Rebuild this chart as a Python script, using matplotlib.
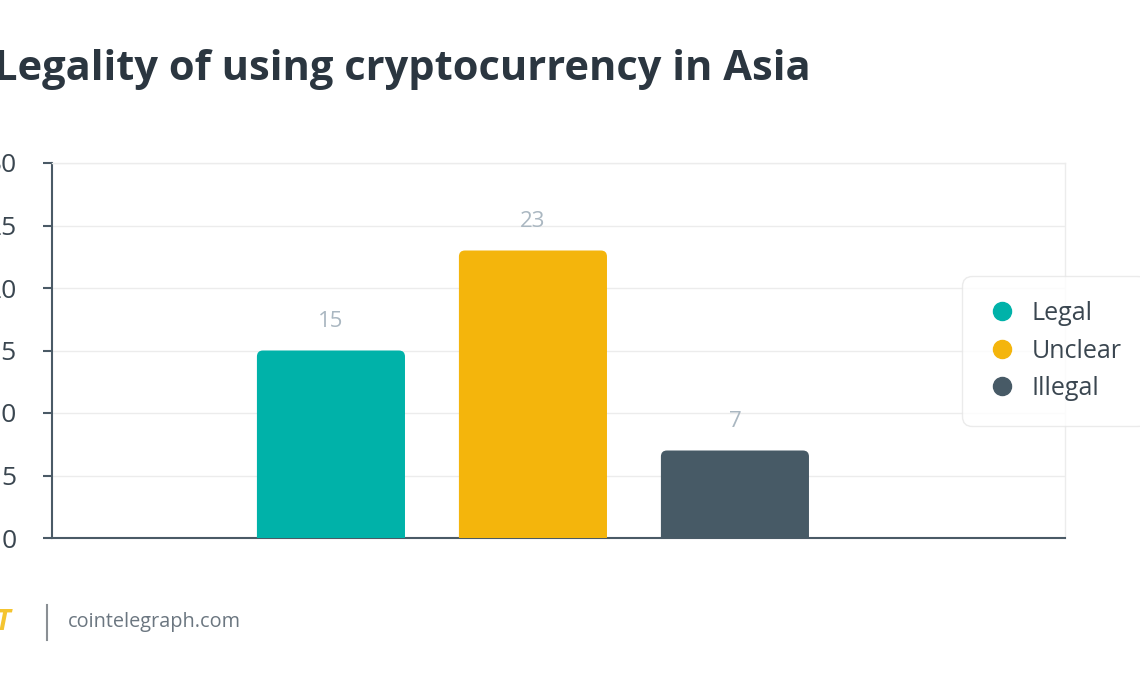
import matplotlib.pyplot as plt
from matplotlib.patches import FancyBboxPatch
from matplotlib.lines import Line2D

categories = ["Legal", "Unclear", "Illegal"]
values = [15, 23, 7]
colors = ["#00b2a9", "#f4b50c", "#475a66"]
y_ticks = [0, 5, 10, 15, 20, 25, 30]

plt.rcParams["font.family"] = ["Open Sans", "DejaVu Sans"]

W, H = 1140, 694
fig = plt.figure(figsize=(W / 100, H / 100), dpi=100)
fig.patch.set_facecolor("white")

# axes box in pixels: left 52, right 1065, bottom 538, top 163
ax = fig.add_axes([52 / W, 1 - 538 / H, (1065 - 52) / W, (538 - 163) / H])

x = list(range(len(categories)))
bars = ax.bar(x, values, width=0.733, color=colors, zorder=3)

# round the bar tops a little
for b, c in zip(bars, colors):
    bx, by = b.get_x(), b.get_y()
    bw, bh = b.get_width(), b.get_height()
    b.set_visible(False)
    patch = FancyBboxPatch((bx, by - 0.6), bw, bh + 0.6,
                           boxstyle="round,pad=0,rounding_size=0.03",
                           mutation_aspect=16.2, fc=c, ec="none", zorder=3)
    ax.add_patch(patch)

for xi, v in zip(x, values):
    ax.text(xi, v + 1.5, str(v), ha="center", va="bottom",
            fontsize=16, color="#aab7c1", zorder=4)

ax.set_xlim(-1.381, 3.634)
ax.set_ylim(0, 30)
ax.set_yticks(y_ticks)
ax.set_yticklabels([str(t) for t in y_ticks], fontsize=19, color="#3a4650")
ax.set_xticks([])
ax.tick_params(axis="y", length=6.5, width=1.5, color="#4a5a66", pad=19)
ax.grid(axis="y", color="#ececec", linewidth=1, zorder=0)
ax.set_axisbelow(True)

for s in ["left", "bottom"]:
    ax.spines[s].set_color("#4a5a66")
    ax.spines[s].set_linewidth(1.5)
for s in ["top", "right"]:
    ax.spines[s].set_color("#ececec")
    ax.spines[s].set_linewidth(1)

# legend
handles = [Line2D([0], [0], marker="o", linestyle="none", markersize=13,
                  markerfacecolor=c, markeredgecolor=c) for c in colors]
leg = fig.legend(handles, categories, loc="upper left",
                 bbox_to_anchor=(962 / W, 1 - 276 / H), frameon=True,
                 fontsize=18, labelcolor="#3a4650", handletextpad=0.6,
                 borderpad=1.0, labelspacing=0.5, handlelength=1.2,
                 borderaxespad=0)
leg.get_frame().set_edgecolor("#e6e6e6")
leg.get_frame().set_linewidth(1)
leg.get_frame().set_boxstyle("round,pad=0,rounding_size=0.4")

# title
fig.text(-6 / W, 1 - 69 / H, "Legality of using cryptocurrency in Asia",
         fontsize=30, fontweight="bold", color="#2b3640", va="center", ha="left")

# footer
fig.add_artist(Line2D([47 / W, 47 / W], [1 - 605 / H, 1 - 640 / H],
                      color="#8a8f94", linewidth=1.5))
fig.text(68 / W, 1 - 622 / H, "cointelegraph.com", fontsize=14.3,
         color="#6b7680", va="center", ha="left")
fig.text(-4 / W, 1 - 622 / H, "T", fontsize=20, fontweight="bold",
         color="#f4c430", va="center", ha="left", style="italic")

fig.savefig("out.png", dpi=100, facecolor="white")
